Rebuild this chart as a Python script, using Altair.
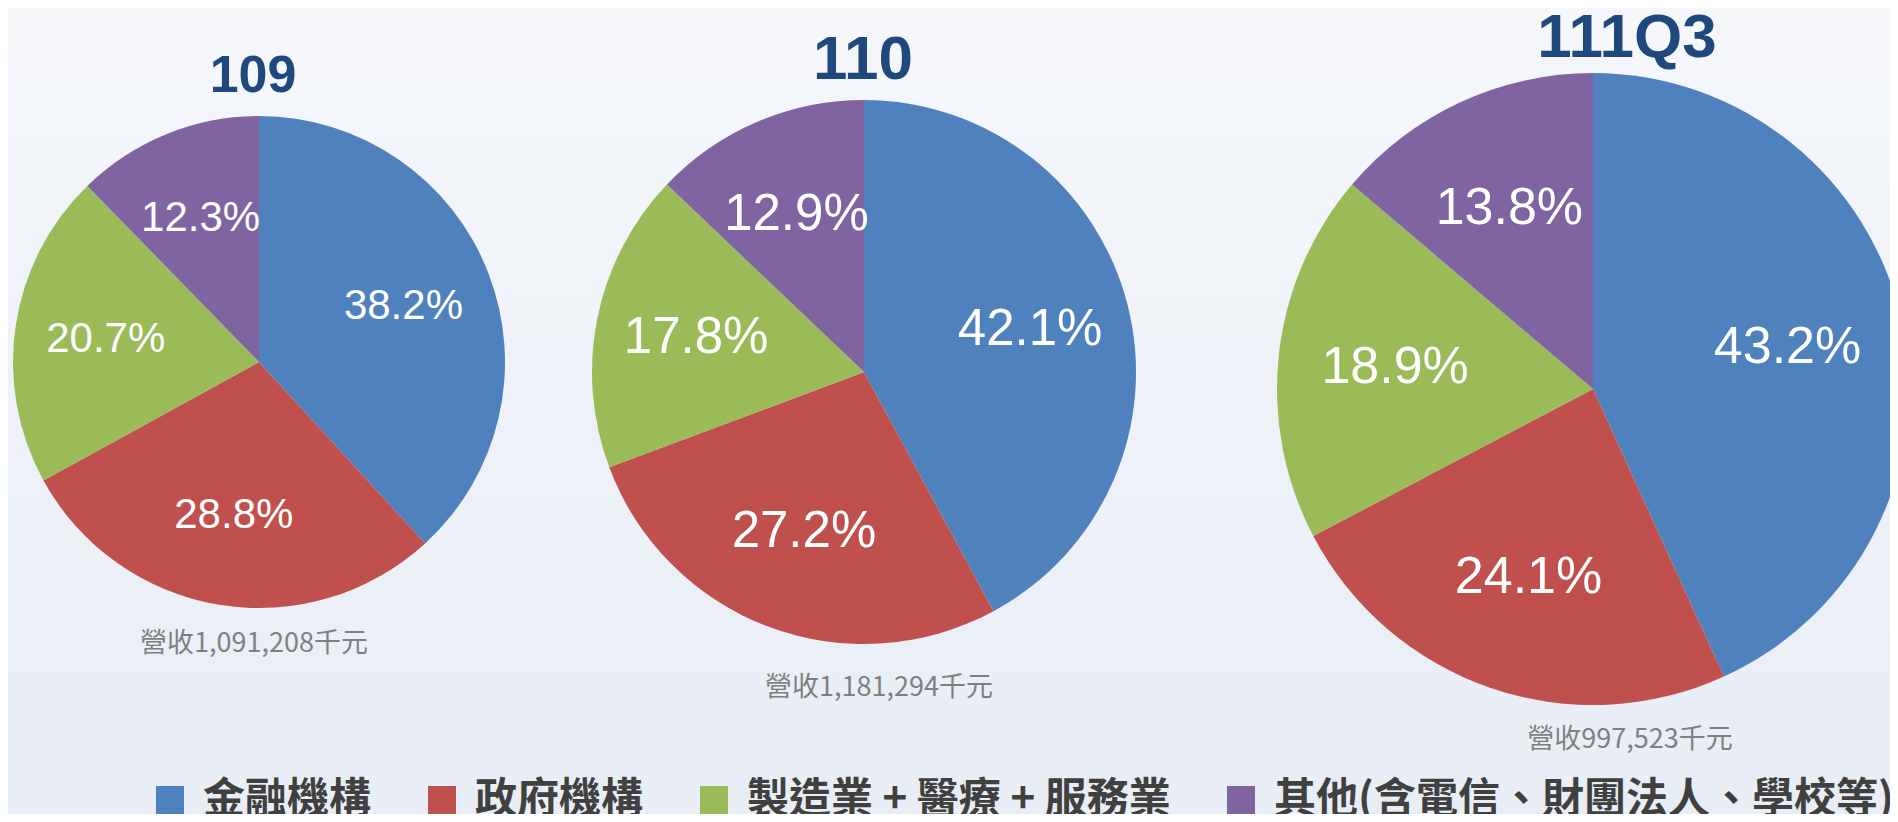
import altair as alt
import pandas as pd

categories = ["金融機構", "政府機構", "製造業 + 醫療 + 服務業", "其他(含電信、財團法人、學校等)"]
colors = ["#4F81BD", "#C0504D", "#9BBB59", "#8064A2"]
years = ["109", "110", "111Q3"]
share_109 = [38.2, 28.8, 20.7, 12.3]
share_110 = [42.1, 27.2, 17.8, 12.9]
share_111q3 = [43.2, 24.1, 18.9, 13.8]
revenues = ["營收1,091,208千元", "營收1,181,294千元", "營收997,523千元"]

shares = [share_109, share_110, share_111q3]

# layout (pixels): pie center x, center y, radius, title pos, title size, subtitle pos, label size
layout = [
    dict(cx=251, cy=354, r=246, tx=245, ty=68, ts=52, sx=246, sy=636, ls=42),
    dict(cx=856, cy=364, r=272, tx=855, ty=52, ts=62, sx=871, sy=680, ls=51),
    dict(cx=1585, cy=381, r=316, tx=1619, ty=30, ts=62, sx=1622, sy=732, ls=52),
]

W, H = 1882, 806

bg = alt.Chart(pd.DataFrame({"a": [0]})).mark_rect(
    fill=alt.LinearGradient(
        gradient="linear",
        stops=[alt.GradientStop(color="#F5F7FB", offset=0),
               alt.GradientStop(color="#EEF2F8", offset=0.5),
               alt.GradientStop(color="#E8EDF6", offset=1)],
        x1=0, x2=0, y1=0, y2=1,
    )
).encode(x=alt.value(-8), x2=alt.value(W + 8), y=alt.value(-8), y2=alt.value(H + 8))

color_scale = alt.Scale(domain=categories, range=colors)

layers = [bg]
for i, (yr, vals, rev, L) in enumerate(zip(years, shares, revenues, layout)):
    df = pd.DataFrame({
        "category": categories,
        "value": vals,
        "order": list(range(len(categories))),
        "label": [f"{v:.1f}%" for v in vals],
    })
    base = alt.Chart(df).encode(
        theta=alt.Theta("value:Q", stack=True),
        order=alt.Order("order:O"),
        x=alt.value(L["cx"]),
        y=alt.value(L["cy"]),
    )
    legend = None
    if i == 0:
        legend = alt.Legend(
            orient="none", legendX=141, legendY=771, direction="horizontal",
            title=None, symbolType="square", symbolSize=784, symbolStrokeWidth=0,
            symbolOpacity=1, labelFontSize=42, labelFont="Noto Sans CJK TC",
            labelFontWeight="bold", labelColor="#404040", columnPadding=49,
            labelOffset=12, padding=0, labelLimit=0,
        )
    arc = base.mark_arc(outerRadius=L["r"]).encode(
        color=alt.Color("category:N", scale=color_scale, legend=legend, sort=categories)
    )
    txt = base.mark_text(
        radius=L["r"] * 0.63, fontSize=L["ls"], font="Liberation Sans",
        color="white", align="center", baseline="middle",
    ).encode(text="label:N")
    tdf = pd.DataFrame({"t": [yr], "s": [rev]})
    title = alt.Chart(tdf).mark_text(
        fontSize=L["ts"], font="Liberation Sans", fontWeight="bold",
        color="#1F497D", align="center", baseline="middle",
    ).encode(text="t:N", x=alt.value(L["tx"]), y=alt.value(L["ty"]))
    sub = alt.Chart(tdf).mark_text(
        fontSize=27, font="Noto Sans CJK TC", color="#7F7F7F",
        align="center", baseline="middle",
    ).encode(text="s:N", x=alt.value(L["sx"]), y=alt.value(L["sy"]))
    layers += [arc, txt, title, sub]

chart = alt.layer(*layers).properties(
    width=W, height=H, padding=0, autosize=alt.AutoSizeParams(type="none"),
    background="#EEF2F8",
).configure_view(stroke=None)

chart.save("out.html", embed_options={"renderer": "svg", "actions": False})
